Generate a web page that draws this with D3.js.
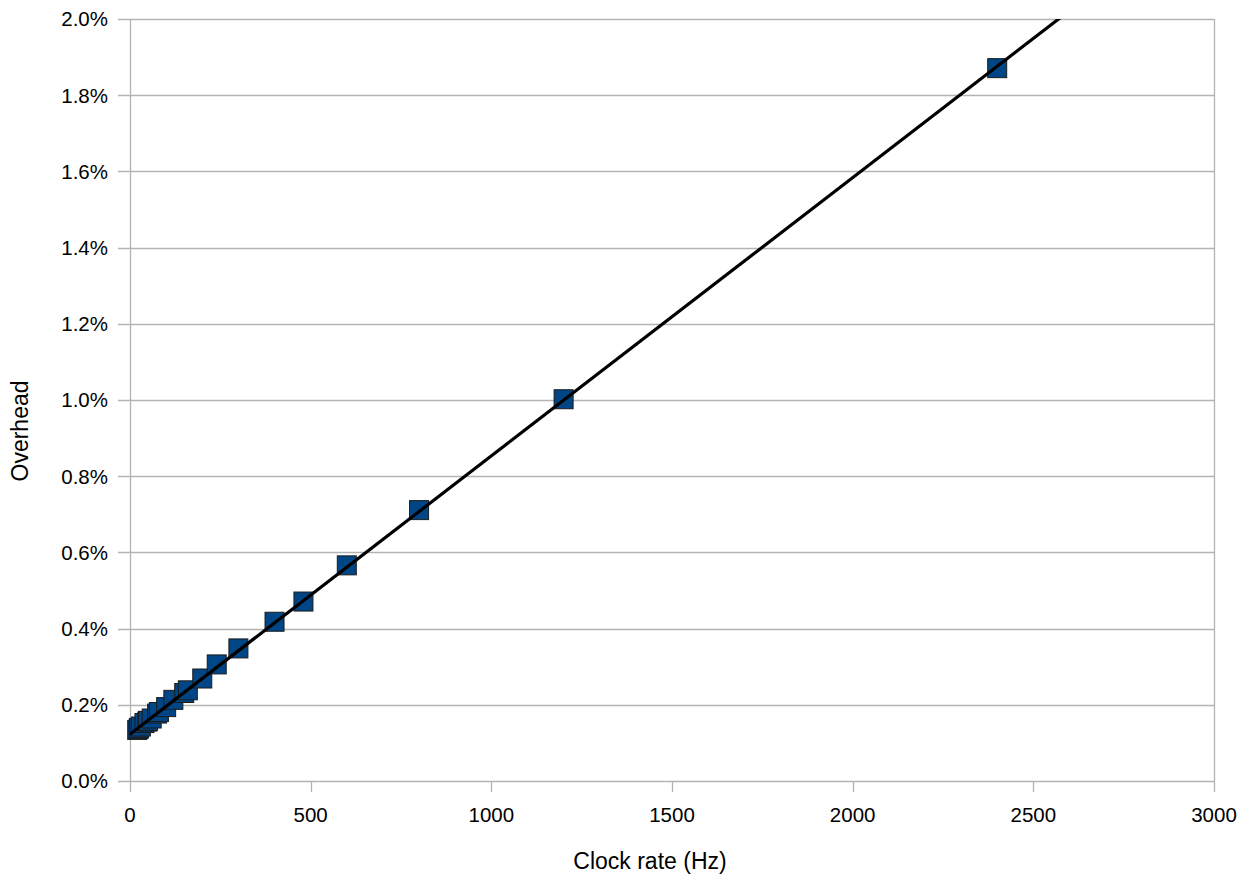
<!DOCTYPE html>
<html>
<head>
<meta charset="utf-8">
<script src="https://cdn.jsdelivr.net/npm/d3@7"></script>
<style>
    body { margin: 0; background: #fff; }
    svg { display: block; font-family: "Liberation Sans", Arial, sans-serif; }
</style>
</head>
<body>
<svg id="chart" width="1250" height="875"></svg>
<script>
// clock rates (Hz) and measured overhead (%)
const clockRates = [20, 24, 25, 30, 40, 48, 50, 60, 75, 80, 100, 120, 150, 160,
    200, 240, 300, 400, 480, 600, 800, 1200, 2400];
const overhead = [0.134, 0.137, 0.139, 0.143, 0.152, 0.156, 0.158, 0.164, 0.177, 0.181, 0.194, 0.213, 0.231, 0.238,
    0.269, 0.306, 0.348, 0.418, 0.471, 0.566, 0.711, 1.002, 1.871];
const xTicks = [0, 500, 1000, 1500, 2000, 2500, 3000];
const yTicks = [0, 0.2, 0.4, 0.6, 0.8, 1.0, 1.2, 1.4, 1.6, 1.8, 2.0];

const plotLeft = 130, plotRight = 1214, plotTop = 19, plotBottom = 781;

const svg = d3.select("#chart");

const x = d3.scaleLinear().domain([0, 3000]).range([plotLeft, plotRight]);
const y = d3.scaleLinear().domain([0, 2.0]).range([plotBottom, plotTop]);

const gridColor = "#b3b3b3";

// horizontal grid
svg.append("g").selectAll("line").data(yTicks).join("line")
    .attr("x1", plotLeft - 12).attr("x2", plotRight)
    .attr("y1", d => Math.round(y(d)) + 0.5).attr("y2", d => Math.round(y(d)) + 0.5)
    .attr("stroke", gridColor).attr("stroke-width", 1.3);

// left axis, right border and x ticks
svg.append("line").attr("x1", plotLeft + 0.5).attr("x2", plotLeft + 0.5).attr("y1", plotTop).attr("y2", plotBottom + 11)
    .attr("stroke", gridColor).attr("stroke-width", 1.3);
svg.append("line").attr("x1", plotRight + 0.5).attr("x2", plotRight + 0.5).attr("y1", plotTop).attr("y2", plotBottom)
    .attr("stroke", gridColor).attr("stroke-width", 1.3);
svg.append("g").selectAll("line").data(xTicks.slice(1)).join("line")
    .attr("x1", d => Math.round(x(d)) + 0.5).attr("x2", d => Math.round(x(d)) + 0.5)
    .attr("y1", plotBottom).attr("y2", plotBottom + 11)
    .attr("stroke", gridColor).attr("stroke-width", 1.3);

// tick labels
svg.append("g").selectAll("text").data(yTicks).join("text")
    .attr("x", 108).attr("y", d => y(d)).attr("dy", "0.36em")
    .attr("text-anchor", "end").attr("font-size", "20.5px").attr("fill", "#000")
    .text(d => d.toFixed(1) + "%");
svg.append("g").selectAll("text").data(xTicks).join("text")
    .attr("x", d => x(d)).attr("y", 822)
    .attr("text-anchor", "middle").attr("font-size", "20.5px").attr("fill", "#000")
    .text(d => d);

// axis titles
svg.append("text").attr("x", 650).attr("y", 869)
    .attr("text-anchor", "middle").attr("font-size", "23px").text("Clock rate (Hz)");
svg.append("text").attr("transform", "translate(28,431) rotate(-90)")
    .attr("text-anchor", "middle").attr("font-size", "23px").text("Overhead");

// points
const points = clockRates.map((c, i) => ({ x: c, y: overhead[i] }));
const s = 19;
svg.append("g").selectAll("rect").data(points).join("rect")
    .attr("x", d => x(d.x) - s / 2).attr("y", d => y(d.y) - s / 2)
    .attr("width", s).attr("height", s)
    .attr("fill", "#004586").attr("stroke", "#1c1c1c").attr("stroke-width", 1);

// linear trend line (least squares), clipped to plot area
const mx = d3.mean(points, d => d.x), my = d3.mean(points, d => d.y);
const slope = d3.sum(points, d => (d.x - mx) * (d.y - my)) / d3.sum(points, d => (d.x - mx) ** 2);
const icpt = my - slope * mx;

svg.append("clipPath").attr("id", "plot")
    .append("rect").attr("x", plotLeft).attr("y", plotTop).attr("width", plotRight - plotLeft).attr("height", plotBottom - plotTop);

svg.append("line").attr("clip-path", "url(#plot)")
    .attr("x1", x(0)).attr("y1", y(icpt))
    .attr("x2", x(3000)).attr("y2", y(icpt + slope * 3000))
    .attr("stroke", "#000").attr("stroke-width", 3.2);
</script>
</body>
</html>
